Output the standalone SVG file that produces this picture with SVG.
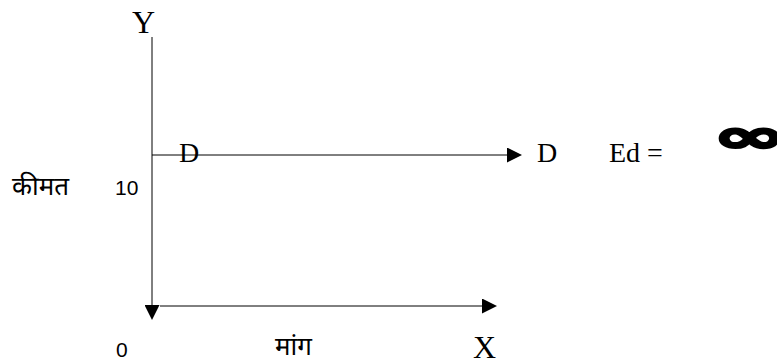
<svg xmlns="http://www.w3.org/2000/svg" width="777" height="363" viewBox="0 0 777 363">
<style>
.serif{font-family:"Liberation Serif","Times New Roman",serif;fill:#000}
.sans{font-family:"Liberation Sans",Arial,sans-serif;fill:#000}
.deva{font-family:"Noto Sans Devanagari","Noto Sans","Lohit Devanagari",sans-serif;fill:#000}
.inf{font-family:"DejaVu Sans",sans-serif;font-weight:bold;fill:#000;stroke:#000;stroke-width:2.5}
.ax{stroke:#000;stroke-width:1;fill:none}
</style>
<defs>
<marker id="ah" markerWidth="15" markerHeight="15" refX="0" refY="7.5" orient="auto" markerUnits="userSpaceOnUse">
<path d="M0,0 L15,7.5 L0,15 Z" fill="#000"/>
</marker>
</defs>
<rect width="777" height="363" fill="#fff"/>
<g id="connectors">
<line class="ax" x1="152" y1="37" x2="152" y2="305" stroke="#333" marker-end="url(#ah)"/>
<line class="ax" x1="160" y1="306" x2="482" y2="306" marker-end="url(#ah)"/>
<line class="ax" x1="152" y1="155" x2="507" y2="155" marker-end="url(#ah)"/>
</g>
<g id="label-Y"><text class="serif" x="132" y="33" font-size="32">Y</text></g>
<g id="label-X"><text class="serif" x="473" y="358" font-size="32">X</text></g>
<g id="label-D-left"><text class="serif" x="179" y="162" font-size="28">D</text></g>
<g id="label-D-right"><text class="serif" x="537" y="162" font-size="28">D</text></g>
<g id="label-Ed"><text class="serif" x="609" y="162" font-size="28">Ed =</text></g>
<g id="label-infinity"><text class="inf" transform="translate(713,152) scale(1.9,1)" font-size="46">∞</text></g>
<g id="label-price"><text class="deva" x="12" y="195" font-size="26">कीमत</text></g>
<g id="label-10"><text class="sans" x="115" y="195" font-size="21">10</text></g>
<g id="label-0"><text class="sans" x="116" y="357" font-size="21">0</text></g>
<g id="label-demand"><text class="deva" x="275" y="355" font-size="26">मांग</text></g>
</svg>
